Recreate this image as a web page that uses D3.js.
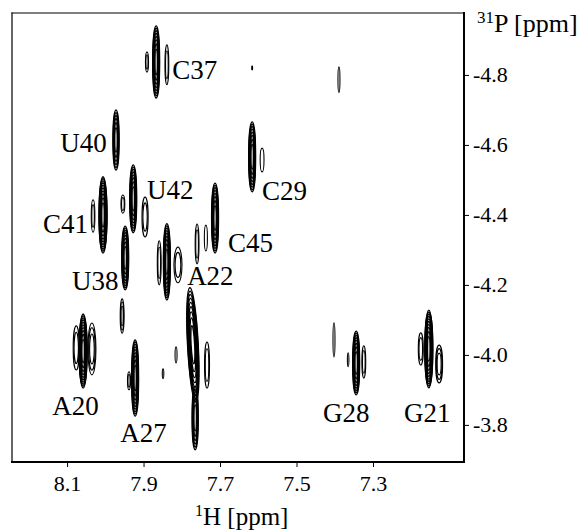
<!DOCTYPE html>
<html>
<head>
<meta charset="utf-8">
<script src="https://cdn.jsdelivr.net/npm/d3@7"></script>
<style>
  body { margin: 0; background: #fff; }
  svg text { font-family: "Liberation Serif", "Times New Roman", serif; fill: #000; }
</style>
</head>
<body>
<svg id="spectrum" width="584" height="532"></svg>
<script>
'use strict';

var SERIF = '"Liberation Serif", "Times New Roman", serif';

// tick labels on the two axes
var hTicks = [8.1, 7.9, 7.7, 7.5, 7.3];
var pTicks = [-4.8, -4.6, -4.4, -4.2, -4.0, -3.8];

// cross peaks: [1H ppm, 31P ppm, half width 1H, half height 31P, contour levels, tilt deg]
var peaks = [
    [7.867, -4.837, 0.009, 0.103, 8, 0],   // C37
    [7.891, -4.837, 0.004, 0.029, 2, 0],
    [7.839, -4.829, 0.005, 0.057, 2, 0],
    [7.616, -4.820, 0.0013, 0.006, 1, 0],
    [7.389, -4.786, 0.0026, 0.037, 1, 0],
    [7.972, -4.614, 0.008, 0.086, 6, 0],   // U40
    [7.616, -4.566, 0.009, 0.100, 8, 0],   // C29
    [7.590, -4.557, 0.005, 0.034, 1, 0],
    [8.006, -4.400, 0.0105, 0.109, 10, 0], // C41
    [8.032, -4.397, 0.0047, 0.046, 2, 0],
    [7.927, -4.446, 0.009, 0.097, 8, 0],   // U42
    [7.954, -4.431, 0.005, 0.026, 2, 0],
    [7.896, -4.394, 0.008, 0.057, 2, 0],
    [7.713, -4.391, 0.009, 0.100, 8, 0],   // C45
    [7.760, -4.317, 0.005, 0.057, 2, 0],
    [7.737, -4.334, 0.004, 0.037, 1, 0],
    [7.948, -4.277, 0.009, 0.091, 8, 0],   // U38
    [7.839, -4.266, 0.009, 0.109, 9, 0],   // A22
    [7.859, -4.263, 0.005, 0.063, 2, 0],
    [7.810, -4.257, 0.0105, 0.051, 2, 0],
    [7.956, -4.111, 0.005, 0.049, 3, 0],
    [8.058, -4.011, 0.0105, 0.106, 10, 0], // A20
    [8.076, -4.020, 0.008, 0.063, 2, 0],
    [8.035, -4.017, 0.0105, 0.074, 3, 0],
    [7.922, -3.934, 0.009, 0.109, 9, 0],   // A27
    [7.938, -3.926, 0.004, 0.026, 2, 0],
    [7.815, -4.000, 0.0026, 0.023, 1, 0],
    [7.849, -3.946, 0.002, 0.014, 1, 0],
    [7.771, -4.029, 0.014, 0.163, 9, -3],  // broad streak
    [7.765, -3.820, 0.008, 0.091, 6, 0],
    [7.734, -3.971, 0.0065, 0.066, 2, 0],
    [7.344, -3.977, 0.009, 0.091, 8, 0],   // G28
    [7.324, -3.980, 0.005, 0.046, 2, 0],
    [7.402, -4.043, 0.0026, 0.049, 1, 0],
    [7.365, -3.986, 0.002, 0.020, 1, 0],
    [7.154, -4.017, 0.0105, 0.111, 10, 0], // G21
    [7.175, -4.017, 0.0065, 0.046, 2, 0],
    [7.127, -3.974, 0.009, 0.054, 3, 0]
];

// assignments, placed at start / baseline
var labelNames = ['C37', 'U40', 'C29', 'U42', 'C41', 'C45', 'U38', 'A22', 'A20', 'A27', 'G28', 'G21'];
var labelH = [7.825, 8.118, 7.590, 7.891, 8.163, 7.679, 8.087, 7.786, 8.139, 7.961, 7.431, 7.219];
var labelP = [-4.789, -4.580, -4.443, -4.446, -4.349, -4.294, -4.186, -4.200, -3.829, -3.751, -3.809, -3.809];

var frame = { left: 12, top: 13, right: 464, bottom: 462 };

var svg = d3.select('#spectrum');

var x = d3.scaleLinear()
    .domain([8.244, 7.062])
    .range([frame.left, frame.right]);
var y = d3.scaleLinear()
    .domain([-4.977, -3.694])
    .range([frame.top, frame.bottom]);

// contour rings for each peak
var rings = [];
peaks.forEach(function (p) {
    var n = p[4];
    for (var k = 0; k < n; k++) {
        var s = Math.sqrt(1 - k / n);
        rings.push({ h: p[0], p: p[1], dh: p[2] * s, dp: p[3] * s, tilt: p[5], main: n > 5 });
    }
});

svg.append('g')
    .attr('class', 'contours')
    .selectAll('ellipse')
    .data(rings)
    .enter()
    .append('ellipse')
    .attr('cx', function (d) { return x(d.h); })
    .attr('cy', function (d) { return y(d.p); })
    .attr('rx', function (d) { return Math.max(0.4, x(d.h) - x(d.h + d.dh)); })
    .attr('ry', function (d) { return y(d.p + d.dp) - y(d.p); })
    .attr('transform', function (d) {
        return 'rotate(' + d.tilt + ',' + x(d.h) + ',' + y(d.p) + ')';
    })
    .attr('fill', 'none')
    .attr('stroke', '#000')
    .attr('stroke-width', function (d) { return d.main ? 1.35 : 1.1; });

svg.append('g')
    .attr('class', 'labels')
    .selectAll('text')
    .data(labelNames)
    .enter()
    .append('text')
    .attr('x', function (d, i) { return x(labelH[i]); })
    .attr('y', function (d, i) { return y(labelP[i]); })
    .style('font-family', SERIF)
    .style('font-size', '27px')
    .text(function (d) { return d; });

// frame: light top/left, heavier right/bottom
var edges = [
    [frame.left, frame.top, frame.right, frame.top, 1.2],
    [frame.left, frame.top, frame.left, frame.bottom, 1.2],
    [frame.right, frame.top, frame.right, frame.bottom, 2],
    [frame.left, frame.bottom, frame.right, frame.bottom, 2]
];
svg.append('g')
    .selectAll('line')
    .data(edges)
    .enter()
    .append('line')
    .attr('x1', function (d) { return d[0]; })
    .attr('y1', function (d) { return d[1]; })
    .attr('x2', function (d) { return d[2]; })
    .attr('y2', function (d) { return d[3]; })
    .attr('stroke', '#000')
    .attr('stroke-linecap', 'square')
    .attr('stroke-width', function (d) { return d[4]; });

var xAxis = svg.append('g')
    .attr('transform', 'translate(0,' + frame.bottom + ')')
    .call(d3.axisBottom(x)
        .tickValues(hTicks)
        .tickSize(5)
        .tickPadding(8)
        .tickFormat(function (d) { return d.toFixed(1); }))
    .attr('font-family', SERIF)
    .attr('font-size', 22);
xAxis.select('.domain').remove();
xAxis.selectAll('text')
    .style('font-family', SERIF)
    .style('font-size', '22px');

var yAxis = svg.append('g')
    .attr('transform', 'translate(' + frame.right + ',0)')
    .call(d3.axisRight(y)
        .tickValues(pTicks)
        .tickSize(5)
        .tickPadding(4)
        .tickFormat(function (d) { return d.toFixed(1); }))
    .attr('font-family', SERIF)
    .attr('font-size', 22);
yAxis.select('.domain').remove();
yAxis.selectAll('text')
    .style('font-family', SERIF)
    .style('font-size', '22px');

// axis titles with isotope superscripts
var pTitle = svg.append('text')
    .attr('x', 477)
    .attr('y', 32)
    .style('font-family', SERIF)
    .style('font-size', '26px');
pTitle.append('tspan').attr('dy', -9).style('font-size', '17px').text('31');
pTitle.append('tspan').attr('dy', 9).text('P [ppm]');

var hTitle = svg.append('text')
    .attr('x', 195)
    .attr('y', 525)
    .style('font-family', SERIF)
    .style('font-size', '25px');
hTitle.append('tspan').attr('dy', -9).style('font-size', '16px').text('1');
hTitle.append('tspan').attr('dy', 9).text('H [ppm]');
</script>
</body>
</html>
